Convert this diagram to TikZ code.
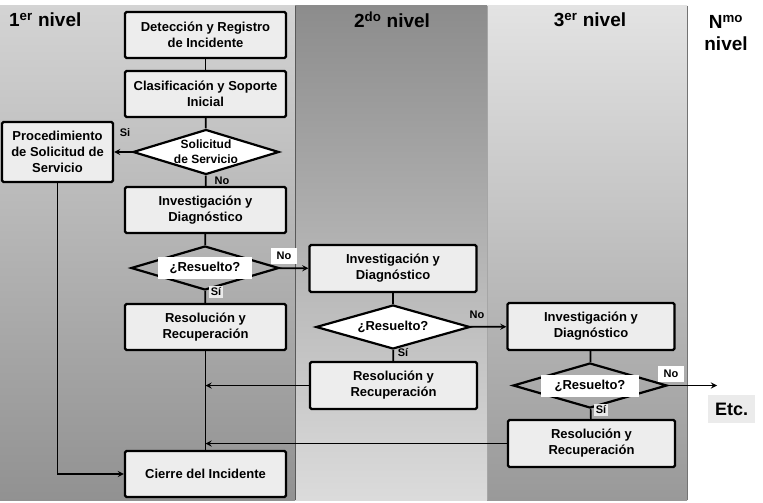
\documentclass[tikz,border=0pt]{standalone}
\usepackage{fontspec}
\setmainfont{Liberation Sans}
\usetikzlibrary{shapes.geometric}

\begin{document}
\begin{tikzpicture}[x=1pt,y=-1pt,>=stealth,line width=1.7pt,
    font=\bfseries\fontsize{13}{16}\selectfont,
    caja/.style={draw,line width=2.2pt,fill=black!7,rounded corners=1.5pt,align=center,
      inner sep=0pt,minimum width=161pt,minimum height=46pt},
    cajaa/.style={caja,minimum width=167pt,minimum height=47pt},
    rombo/.style={draw,diamond,line width=2.2pt,inner sep=0pt},
    etiq/.style={inner sep=1.5pt,font=\bfseries\fontsize{11}{12}\selectfont},
    etiqb/.style={etiq,fill=white,minimum width=26pt,minimum height=16pt},
    titulo/.style={font=\bfseries\fontsize{19}{22}\selectfont,align=center}]
  \useasboundingbox (0,0) rectangle (763,503);
  % carriles
  \shade[top color=black!17,bottom color=black!43] (0,6) rectangle (295,500);
  \shade[top color=black!45,bottom color=black!14] (295,6) rectangle (487,500);
  \shade[top color=black!11,bottom color=black!40] (487,6) rectangle (687,500);
  \draw[black!65,line width=1pt] (295,6) -- (295,500);
  \draw[black!35,line width=1pt] (487,6) -- (487,500);
  \draw[black!55,line width=0.8pt] (687,6) -- (687,500);
  \node[titulo,anchor=west] at (5,20) {1\textsuperscript{er} nivel};
  \node[titulo] at (392,20) {2\textsuperscript{do} nivel};
  \node[titulo] at (590,20) {3\textsuperscript{er} nivel};
  \node[titulo] at (726,33) {N\textsuperscript{mo}\\nivel};

  % 1er nivel
  \node[caja] (det) at (205.5,35) {Detección y Registro\\de Incidente};
  \node[caja] (clas) at (205.5,94) {Clasificación y Soporte\\Inicial};
  \node[rombo,fill=white,minimum width=146pt,minimum height=45pt] (sol) at (206,152) {};
  \node[align=center,font=\bfseries\fontsize{12}{15}\selectfont] at (sol) {Solicitud\\de Servicio};
  \node[caja,minimum width=111pt,minimum height=60pt] (proc) at (57.5,152) {Procedimiento\\de Solicitud de\\Servicio};
  \node[caja] (inv1) at (205.5,210) {Investigación y\\Diagnóstico};
  \node[rombo,minimum width=148pt,minimum height=44pt] (d1) at (205,268) {};
  \node[fill=white,minimum width=94pt,minimum height=22pt,inner sep=0pt] at (d1) {¿Resuelto?};
  \node[caja] (res1) at (205.5,327) {Resolución y\\Recuperación};
  \node[caja] (cierre) at (205.5,474) {Cierre del Incidente};

  % 2do nivel
  \node[cajaa] (inv2) at (393,268.5) {Investigación y\\Diagnóstico};
  \node[rombo,fill=white,minimum width=154pt,minimum height=44pt] (d2) at (393,327) {};
  \node at (d2) {¿Resuelto?};
  \node[cajaa] (res2) at (393.5,385.5) {Resolución y\\Recuperación};

  % 3er nivel
  \node[cajaa] (inv3) at (591,326.5) {Investigación y\\Diagnóstico};
  \node[rombo,minimum width=154pt,minimum height=45pt] (d3) at (590,385.5) {};
  \node[fill=white,minimum width=98pt,minimum height=22pt,inner sep=0pt] at (d3) {¿Resuelto?};
  \node[cajaa] (res3) at (591.5,443.5) {Resolución y\\Recuperación};
  \node[fill=black!8,minimum width=47pt,minimum height=28pt,font=\bfseries\fontsize{18}{20}\selectfont] (etc) at (731.5,409) {Etc.};
  \coordinate (fin) at (717,385.5);

  % conectores
  \draw (det) -- (clas);
  \draw (clas) -- (sol);
  \draw[->] (sol) -- (proc);
  \draw (sol) -- (inv1);
  \draw (inv1) -- (d1);
  \draw (d1) -- (res1);
  \draw[->] (d1) -- (inv2);
  \draw (inv2) -- (d2);
  \draw (d2) -- (res2);
  \draw[->] (d2) -- (inv3);
  \draw (inv3) -- (d3);
  \draw (d3) -- (res3);
  \draw[->] (d3.east) -- (fin);
  \draw (res1) -- (cierre);
  \draw[->] (res2.west) -- (res2.west -| res1.south);
  \draw[->] (res3.west) -- (res3.west -| res1.south);
  \draw[->] (proc.south) |- (cierre.west);

  % etiquetas
  \node[etiq] at (125,133) {Si};
  \node[etiq] at (222,181) {No};
  \node[etiqb] at (284,256) {No};
  \node[etiq,fill=black!8] at (216,292) {Sí};
  \node[etiq] at (477,315) {No};
  \node[etiq] at (403,353) {Sí};
  \node[etiqb] at (671,373.5) {No};
  \node[etiq,fill=black!8] at (601,410) {Sí};
\end{tikzpicture}
\end{document}
